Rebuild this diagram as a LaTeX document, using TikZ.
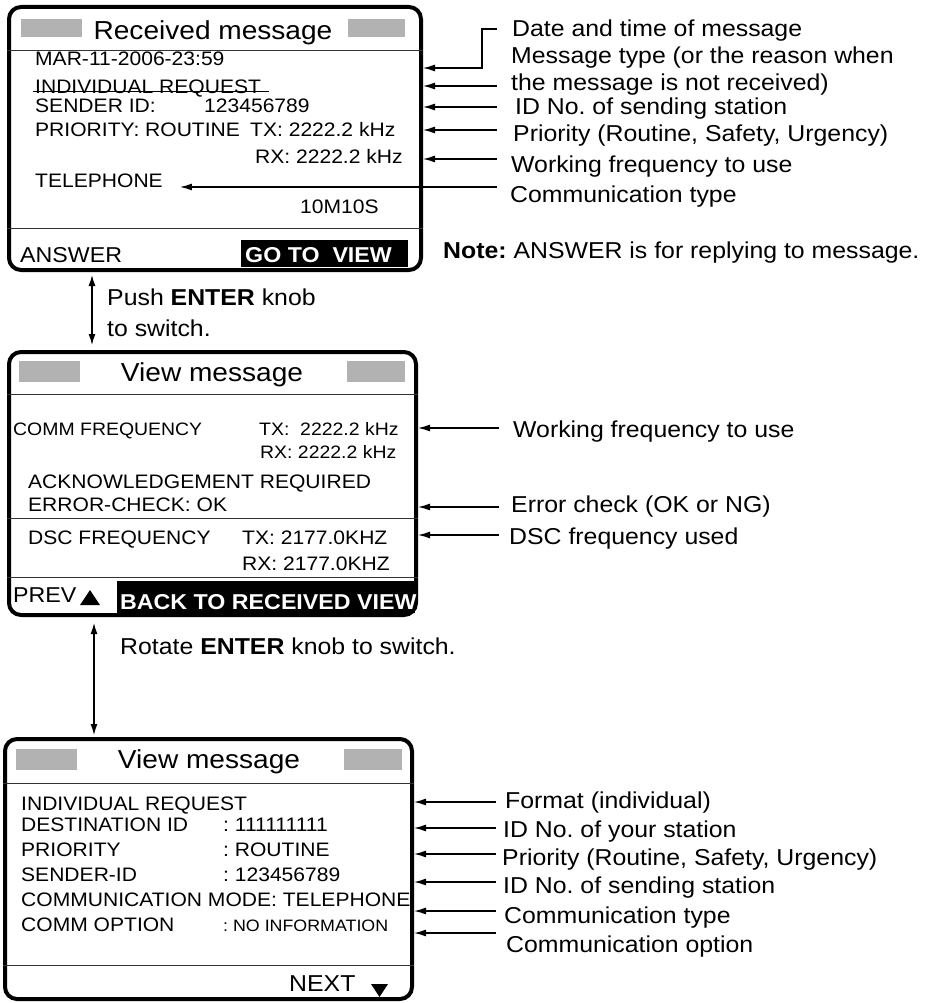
\documentclass[tikz,border=0pt]{standalone}
\usepackage{fontspec}
\setmainfont[FakeStretch=1.08]{Liberation Sans}
\usetikzlibrary{arrows.meta, positioning}
\frenchspacing
\definecolor{bargray}{gray}{0.7}
\tikzstyle{screen} = [rectangle, rounded corners=12pt, draw=black, line width=4pt]
\tikzstyle{grayblock} = [rectangle, fill=bargray, inner sep=0pt]
\tikzstyle{headtext} = [anchor=base, inner sep=0pt, font=\fontsize{26}{30}\selectfont]
\tikzstyle{rowtext} = [anchor=base west, inner sep=0pt, font=\fontsize{19.5}{23}\selectfont]
\tikzstyle{smalltext} = [anchor=base west, inner sep=0pt, font=\fontsize{18}{22}\selectfont]
\tikzstyle{keytext} = [anchor=base west, inner sep=0pt, font=\fontsize{21.5}{25}\selectfont]
\tikzstyle{blackbar} = [rectangle, fill=black, inner sep=0pt]
\tikzstyle{bartext} = [anchor=base west, inner sep=0pt, text=white, font=\fontsize{21.5}{25}\selectfont\bfseries]
\tikzstyle{callout} = [anchor=base west, inner sep=0pt, font=\fontsize{23}{27}\selectfont]
\tikzstyle{divider} = [line width=1pt, black!80]
\tikzstyle{pointer} = [line width=1.3pt, -{Latex[length=12pt, width=7pt]}]
\tikzstyle{togglearrow} = [line width=1.3pt, {Latex[length=11pt, width=7pt]}-{Latex[length=11pt, width=7pt]}]

\begin{document}
\begin{tikzpicture}[x=1pt, y=-1pt]
\useasboundingbox (0,0) rectangle (936,1003);

% Screen 1: received message
\node[screen, minimum width=412pt, minimum height=263pt] (box1) at (215,138.5) {};
\node[grayblock, minimum width=61pt, minimum height=18pt] (gl1) at (51.5,28) {};
\node[grayblock, minimum width=57pt, minimum height=18pt] (gr1) at (376.5,28) {};
\node[headtext] (head1) at (213,40) {Received message};
\draw[divider] (box1.west |- 0,51) -- (box1.east |- 0,51);
\draw[divider] (box1.west |- 0,228) -- (box1.east |- 0,228);
\node[rowtext] (date1) at (35,66) {MAR-11-2006-23:59};
\node[rowtext] (ireq1) at (35,94) {INDIVIDUAL REQUEST};
\draw[line width=1.2pt] ([xshift=-2pt,yshift=2.5pt]ireq1.base west) -- ([xshift=8pt,yshift=2.5pt]ireq1.base east);
\node[rowtext] (sid1) at (35,113) {SENDER ID:};
\node[rowtext] (sidval1) at (204,113) {123456789};
\node[rowtext] (pri1) at (35,137) {PRIORITY: ROUTINE};
\node[rowtext] (tx1) at (250,137) {TX: 2222.2 kHz};
\node[rowtext] (rx1) at (255,164) {RX: 2222.2 kHz};
\node[rowtext] (tel1) at (35,187) {TELEPHONE};
\node[rowtext] (time1) at (300,213) {10M10S};
\node[keytext] (answer) at (20,262) {ANSWER};
\node[blackbar, minimum width=167pt, minimum height=27pt] (gobar) at (324.5,253.5) {};
\node[bartext] (gotext) at (245,262) {GO TO\ \ VIEW};

% Callouts, screen 1
\node[callout] (cdate) at (512,37) {Date and time of message};
\node[callout] (ctype) at (511,64) {Message type (or the reason when};
\node[callout] (ctype2) at (511,91) {the message is not received)};
\node[callout] (cid) at (515,115) {ID No. of sending station};
\node[callout] (cpri) at (513,142) {Priority (Routine, Safety, Urgency)};
\node[callout] (cfreq) at (511,172) {Working frequency to use};
\node[callout] (ccomm) at (510,202) {Communication type};
\node[callout] (note) at (443,258) {\textbf{Note:} ANSWER is for replying to message.};
\coordinate (p1) at (497,29);
\coordinate (p2) at (497,86);
\coordinate (p3) at (497,107);
\coordinate (p4) at (497,130);
\coordinate (p5) at (497,159);
\coordinate (p6) at (497,187);
\draw[pointer] (p1) -- ++(-15,0) |- (box1.east |- 0,68);
\draw[pointer] (p2) -- (p2 -| box1.east);
\draw[pointer] (p3) -- (p3 -| box1.east);
\draw[pointer] (p4) -- (p4 -| box1.east);
\draw[pointer] (p5) -- (p5 -| box1.east);
\draw[pointer] (p6) -- ([xshift=17pt]tel1.base east |- p6);

% Screen 2: view message
\node[screen, minimum width=407pt, minimum height=263pt] (box2) at (212.5,483.5) {};
\node[grayblock, minimum width=61pt, minimum height=21pt] (gl2) at (49.5,371.5) {};
\node[grayblock, minimum width=58pt, minimum height=21pt] (gr2) at (376,371.5) {};
\node[headtext] (head2) at (212,381) {View message};
\draw[divider] (box2.west |- 0,394) -- (box2.east |- 0,394);
\draw[divider] (box2.west |- 0,518) -- (box2.east |- 0,518);
\draw[divider] (box2.west |- 0,577) -- (box2.east |- 0,577);
\node[smalltext] (cf2) at (13,435) {COMM FREQUENCY};
\node[smalltext] (tx2) at (259,435) {TX:\ \ 2222.2 kHz};
\node[smalltext] (rx2) at (260,458) {RX: 2222.2 kHz};
\node[rowtext] (ack2) at (28,488) {ACKNOWLEDGEMENT REQUIRED};
\node[rowtext] (err2) at (28,511) {ERROR-CHECK: OK};
\node[rowtext] (dsc2) at (28,544) {DSC FREQUENCY};
\node[rowtext] (dtx2) at (242,544) {TX: 2177.0KHZ};
\node[rowtext] (drx2) at (242,570) {RX: 2177.0KHZ};
\node[keytext] (prev) at (13,602) {PREV};
\fill (80,605) -- (100,605) -- (90,590) -- cycle;
\node[blackbar, minimum width=298pt, minimum height=32pt] (backbar) at (266,597) {};
\node[bartext] (backtext) at (120,609) {BACK TO RECEIVED VIEW};

% Callouts, screen 2
\node[callout] (cfreq2) at (513,437) {Working frequency to use};
\node[callout] (cerr2) at (511,512) {Error check (OK or NG)};
\node[callout] (cdsc2) at (509,544) {DSC frequency used};
\coordinate (q1) at (499,428);
\coordinate (q2) at (499,507);
\coordinate (q3) at (499,535);
\draw[pointer] (q1) -- (q1 -| box2.east);
\draw[pointer] (q2) -- (q2 -| box2.east);
\draw[pointer] (q3) -- (q3 -| box2.east);

% Screen 3: view message, page 2
\node[screen, minimum width=407pt, minimum height=260pt] (box3) at (208.5,869) {};
\node[grayblock, minimum width=61pt, minimum height=21pt] (gl3) at (46.5,759.5) {};
\node[grayblock, minimum width=58pt, minimum height=21pt] (gr3) at (373,759.5) {};
\node[headtext] (head3) at (209,768) {View message};
\draw[divider] (box3.west |- 0,783) -- (box3.east |- 0,783);
\draw[divider] (box3.west |- 0,965) -- (box3.east |- 0,965);
\node[rowtext] (ireq3) at (21,810) {INDIVIDUAL REQUEST};
\node[rowtext] (dest3) at (21,831) {DESTINATION ID};
\node[rowtext] (destval3) at (223,831) {: 111111111};
\node[rowtext] (pri3) at (21,856) {PRIORITY};
\node[rowtext] (prival3) at (223,856) {: ROUTINE};
\node[rowtext] (sid3) at (21,881) {SENDER-ID};
\node[rowtext] (sidval3) at (223,881) {: 123456789};
\node[rowtext] (mode3) at (21,906) {COMMUNICATION MODE: TELEPHONE};
\node[rowtext] (opt3) at (21,931) {COMM OPTION};
\node[anchor=base west, inner sep=0pt, font=\fontsize{16.5}{20}\selectfont] (optval3) at (223,931) {: NO INFORMATION};
\node[keytext, font=\fontsize{23}{27}\selectfont] (next) at (289,991) {NEXT};
\fill (371,984) -- (388,984) -- (379.5,997) -- cycle;

% Callouts, screen 3
\node[callout] (cfmt3) at (505,808) {Format (individual)};
\node[callout] (cown3) at (503,837) {ID No. of your station};
\node[callout] (cpri3) at (502,865) {Priority (Routine, Safety, Urgency)};
\node[callout] (cid3) at (503,893) {ID No. of sending station};
\node[callout] (ctype3) at (504,923) {Communication type};
\node[callout] (copt3) at (506,952) {Communication option};
\coordinate (r1) at (496,802);
\coordinate (r2) at (496,828);
\coordinate (r3) at (496,854);
\coordinate (r4) at (496,882);
\coordinate (r5) at (496,911);
\coordinate (r6) at (496,933);
\draw[pointer] (r1) -- (r1 -| box3.east);
\draw[pointer] (r2) -- (r2 -| box3.east);
\draw[pointer] (r3) -- (r3 -| box3.east);
\draw[pointer] (r4) -- (r4 -| box3.east);
\draw[pointer] (r5) -- (r5 -| box3.east);
\draw[pointer] (r6) -- (r6 -| box3.east);

% Switch arrows between screens
\coordinate (sw1) at (92,0);
\draw[togglearrow, shorten <=3pt, shorten >=5pt] (box1.south -| sw1) -- (box2.north -| sw1);
\node[callout] (push) at (107,305) {Push \textbf{ENTER} knob};
\node[callout] (push2) at (107,336) {to switch.};
\coordinate (sw2) at (94,0);
\draw[togglearrow, shorten <=6pt, shorten >=2pt] (box2.south -| sw2) -- (box3.north -| sw2);
\node[callout] (rotate) at (120,654) {Rotate \textbf{ENTER} knob to switch.};

\end{tikzpicture}
\end{document}
